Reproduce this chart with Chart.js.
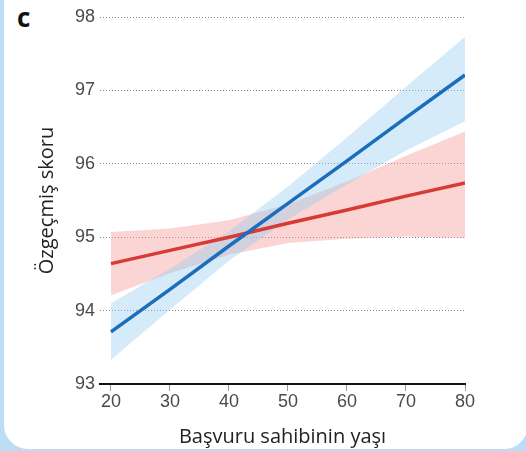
<!DOCTYPE html>
<html>
<head>
<meta charset="utf-8">
<script src="https://cdn.jsdelivr.net/npm/chart.js@4"></script>
<style>
  html, body { margin: 0; padding: 0; }
  body { width: 526px; height: 451px; background: #bddcf5; position: relative; overflow: hidden; }
  .panel { position: absolute; left: 4px; top: -40px; width: 524px; height: 489px; background: #fff; border-radius: 24px; }
  .tag { position: absolute; left: 17px; top: -1px; font: bold 26px "Open Sans", sans-serif; color: #111; }
  #wrap { position: absolute; left: 0; top: 0; width: 526px; height: 451px; }
</style>
</head>
<body>
<div class="panel"></div>
<div class="tag">c</div>
<div id="wrap"><canvas id="myChart" width="526" height="451"></canvas></div>
<script>
const ages = [20, 30, 40, 50, 60, 70, 80];
const xTicks = [20, 30, 40, 50, 60, 70, 80];
const yTicks = [93, 94, 95, 96, 97, 98];

// mavi
const blueLine  = [93.71, 94.29, 94.88, 95.46, 96.04, 96.63, 97.21];
const blueUpper = [94.10, 94.57, 95.08, 95.69, 96.36, 97.05, 97.73];
const blueLower = [93.33, 94.01, 94.68, 95.24, 95.72, 96.18, 96.58];

// kırmızı
const redLine  = [94.64, 94.82, 95.00, 95.19, 95.37, 95.56, 95.74];
const redUpper = [95.07, 95.12, 95.23, 95.45, 95.76, 96.11, 96.44];
const redLower = [94.21, 94.51, 94.76, 94.92, 94.98, 95.01, 94.99];

const pts = arr => ages.map((a, i) => ({x: a, y: arr[i]}));

const ctx = document.getElementById('myChart').getContext('2d');

new Chart(ctx, {
    type: 'line',
    data: {
        datasets: [
            { data: pts(blueLine), borderColor: '#1a6ebb', borderWidth: 3.5, pointRadius: 0, fill: false },
            { data: pts(redLine), borderColor: '#d83a36', borderWidth: 3.5, pointRadius: 0, fill: false },
            { data: pts(blueUpper), borderWidth: 0, pointRadius: 0, fill: '+1', backgroundColor: 'rgba(150,206,240,0.40)' },
            { data: pts(blueLower), borderWidth: 0, pointRadius: 0, fill: false },
            { data: pts(redUpper), borderWidth: 0, pointRadius: 0, fill: '+1', backgroundColor: 'rgba(244,150,148,0.40)' },
            { data: pts(redLower), borderWidth: 0, pointRadius: 0, fill: false }
        ]
    },
    options: {
        responsive: false,
        animation: false,
        layout: { padding: { left: 30, right: 61, top: 17, bottom: 0 } },
        plugins: { legend: { display: false }, tooltip: { enabled: false } },
        scales: {
            x: {
                type: 'linear',
                min: 18.14,
                max: 80,
                afterBuildTicks: scale => { scale.ticks = xTicks.map(v => ({value: v})); },
                afterFit: scale => { scale.height = 67; },
                grid: { drawOnChartArea: false, drawTicks: true, tickLength: 7, tickColor: '#999', tickWidth: 1 },
                border: { display: true, color: '#111', width: 2 },
                ticks: { padding: 0, maxRotation: 0, color: '#4a4a4a', font: { family: 'Liberation Sans', size: 18 } },
                title: {
                    display: true,
                    text: 'Başvuru sahibinin yaşı',
                    color: '#222',
                    font: { family: 'Open Sans', size: 20 },
                    padding: { top: 0, bottom: 2 }
                }
            },
            y: {
                min: 93,
                max: 98,
                afterBuildTicks: scale => { scale.ticks = yTicks.map(v => ({value: v})); },
                afterFit: scale => { scale.width = 70; },
                grid: {
                    drawTicks: false,
                    color: c => c.tick && c.tick.value === 93 ? 'rgba(0,0,0,0)' : '#8c8480',
                    lineWidth: 1
                },
                border: { display: false, dash: [1, 2] },
                ticks: { padding: 5, color: '#4a4a4a', font: { family: 'Liberation Sans', size: 18 } },
                title: {
                    display: true,
                    text: 'Özgeçmiş skoru',
                    color: '#222',
                    font: { family: 'Open Sans', size: 20 },
                    padding: { top: 5, bottom: 0 }
                }
            }
        }
    }
});
</script>
</body>
</html>
